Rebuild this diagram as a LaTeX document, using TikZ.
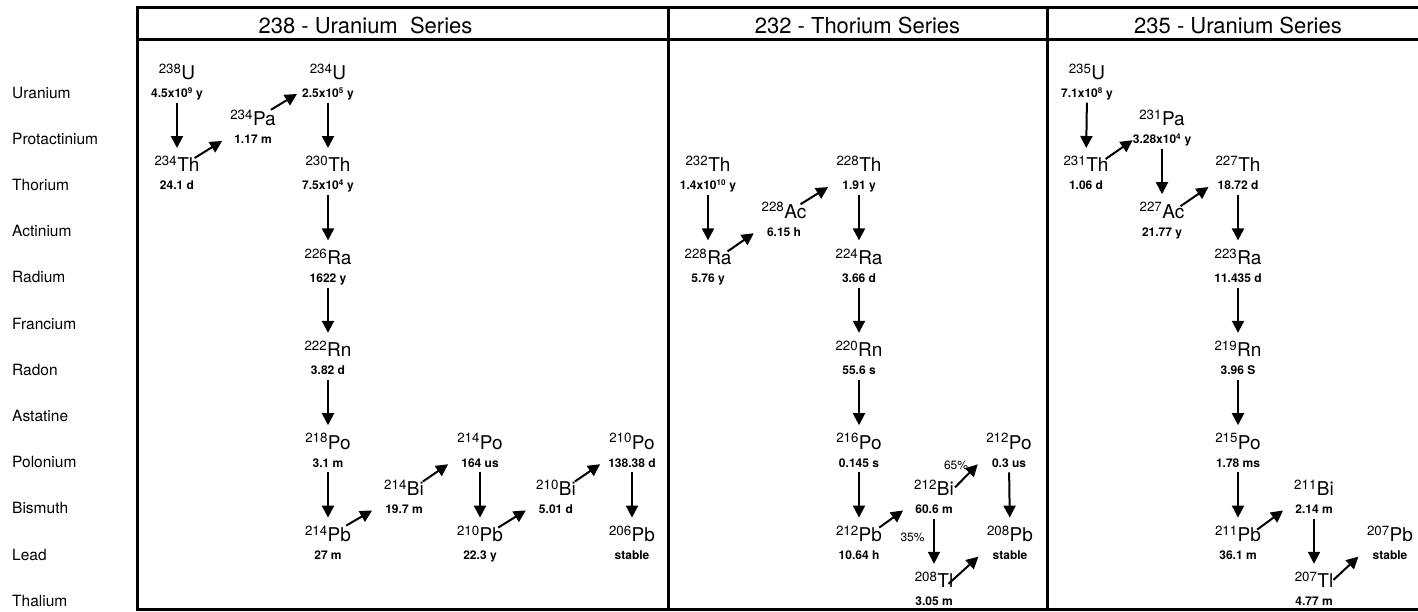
\documentclass[tikz,border=0pt]{standalone}
\usepackage{fontspec}
\setmainfont{TeX Gyre Heros}
\usepackage{tikz}
\usetikzlibrary{arrows.meta}

\tikzset{
  frame/.style={line width=3pt},
  series/.style={anchor=base, font=\fontsize{22}{24}\selectfont},
  rowname/.style={anchor=west, inner sep=0pt, font=\fontsize{15.5}{17}\selectfont},
  nuclide/.style={anchor=base, inner sep=1pt, font=\fontsize{19}{20}\selectfont},
  halflife/.style={anchor=base, inner sep=1pt, text depth=3pt, font=\fontsize{12}{13}\selectfont\bfseries},
  ratio/.style={font=\fontsize{12}{13}\selectfont},
  decay/.style={-{Triangle[length=12pt,width=12pt]}, line width=2pt, shorten <=1pt, shorten >=7pt},
  branch/.style={-{Triangle[length=12pt,width=12pt]}, line width=2pt}
}

\begin{document}
\begin{tikzpicture}[x=1pt, y=-1pt]
    \useasboundingbox (0,0) rectangle (1418,611);

    % Frame and series headers
    \draw[frame] (1418,7.5) -- (137.5,7.5) -- (137.5,609.5) -- (1418,609.5);
    \draw[frame] (137.5,39.5) -- (1418,39.5);
    \draw[frame] (668.5,7.5) -- (668.5,609.5);
    \draw[frame] (1047.5,7.5) -- (1047.5,609.5);
    \node[series] (s238) at (365.5,33.5) {238 - Uranium\ \ Series};
    \node[series] (s232) at (857.5,33.5) {232 - Thorium Series};
    \node[series] (s235) at (1238,33.5) {235 - Uranium Series};

    % Element rows
    \node[rowname] (rU)  at (12,92.5)  {Uranium};
    \node[rowname] (rPa) at (12,138.7) {Protactinium};
    \node[rowname] (rTh) at (12,184.9) {Thorium};
    \node[rowname] (rAc) at (12,231.1) {Actinium};
    \node[rowname] (rRa) at (12,277.3) {Radium};
    \node[rowname] (rFr) at (12,323.5) {Francium};
    \node[rowname] (rRn) at (12,369.7) {Radon};
    \node[rowname] (rAt) at (12,415.9) {Astatine};
    \node[rowname] (rPo) at (12,462.1) {Polonium};
    \node[rowname] (rBi) at (12,508.3) {Bismuth};
    \node[rowname] (rPb) at (12,554.5) {Lead};
    \node[rowname] (rTl) at (12,600.7) {Thalium};

    % 238 - Uranium series
    \node[nuclide]  (U238)   at (177,79.5)  {\textsuperscript{238}U};
    \node[halflife] (U238t)  at (177,97.5)  {4.5x10\textsuperscript{9} y};
    \node[nuclide]  (Th234)  at (177,171.9) {\textsuperscript{234}Th};
    \node[halflife] (Th234t) at (177,189.9) {24.1 d};
    \node[nuclide]  (Pa234)  at (253,125.7) {\textsuperscript{234}Pa};
    \node[halflife] (Pa234t) at (253,143.7) {1.17 m};
    \node[nuclide]  (U234)   at (328,79.5)  {\textsuperscript{234}U};
    \node[halflife] (U234t)  at (328,97.5)  {2.5x10\textsuperscript{5} y};
    \node[nuclide]  (Th230)  at (328,171.9) {\textsuperscript{230}Th};
    \node[halflife] (Th230t) at (328,189.9) {7.5x10\textsuperscript{4} y};
    \node[nuclide]  (Ra226)  at (328,264.3) {\textsuperscript{226}Ra};
    \node[halflife] (Ra226t) at (328,282.3) {1622 y};
    \node[nuclide]  (Rn222)  at (328,356.7) {\textsuperscript{222}Rn};
    \node[halflife] (Rn222t) at (328,374.7) {3.82 d};
    \node[nuclide]  (Po218)  at (328,449.1) {\textsuperscript{218}Po};
    \node[halflife] (Po218t) at (328,467.1) {3.1 m};
    \node[nuclide]  (Pb214)  at (328,541.5) {\textsuperscript{214}Pb};
    \node[halflife] (Pb214t) at (328,559.5) {27 m};
    \node[nuclide]  (Bi214)  at (404,495.3) {\textsuperscript{214}Bi};
    \node[halflife] (Bi214t) at (404,513.3) {19.7 m};
    \node[nuclide]  (Po214)  at (480,449.1) {\textsuperscript{214}Po};
    \node[halflife] (Po214t) at (480,467.1) {164 us};
    \node[nuclide]  (Pb210)  at (480,541.5) {\textsuperscript{210}Pb};
    \node[halflife] (Pb210t) at (480,559.5) {22.3 y};
    \node[nuclide]  (Bi210)  at (556,495.3) {\textsuperscript{210}Bi};
    \node[halflife] (Bi210t) at (556,513.3) {5.01 d};
    \node[nuclide]  (Po210)  at (632,449.1) {\textsuperscript{210}Po};
    \node[halflife] (Po210t) at (632,467.1) {138.38 d};
    \node[nuclide]  (Pb206)  at (632,541.5) {\textsuperscript{206}Pb};
    \node[halflife] (Pb206t) at (632,559.5) {stable};

    \draw[decay] (U238t) -- (Th234);
    \draw[branch] ([shift={(-6pt,-3pt)}]Th234.north east) -- ([xshift=-11pt]Pa234t.west);
    \draw[branch] ([shift={(-6pt,-1pt)}]Pa234.north east) -- ([xshift=-4pt]U234t.west);
    \draw[decay] (U234t) -- (Th230);
    \draw[decay] (Th230t) -- (Ra226);
    \draw[decay] (Ra226t) -- (Rn222);
    \draw[decay] (Rn222t) -- (Po218);
    \draw[decay] (Po218t) -- (Pb214);
    \draw[branch] ([shift={(-6pt,-1pt)}]Pb214.north east) -- ([xshift=-12pt]Bi214t.west);
    \draw[branch] ([shift={(-2pt,-3pt)}]Bi214.north east) -- ([xshift=-12pt]Po214t.west);
    \draw[decay] (Po214t) -- (Pb210);
    \draw[branch] ([shift={(-6pt,-3pt)}]Pb210.north east) -- ([xshift=-12pt]Bi210t.west);
    \draw[branch] ([shift={(-2pt,-3pt)}]Bi210.north east) -- ([xshift=-7pt]Po210t.west);
    \draw[decay] (Po210t) -- (Pb206);

    % 232 - Thorium series
    \node[nuclide]  (Th232)  at (708,171.9) {\textsuperscript{232}Th};
    \node[halflife] (Th232t) at (708,189.9) {1.4x10\textsuperscript{10} y};
    \node[nuclide]  (Ra228)  at (708,264.3) {\textsuperscript{228}Ra};
    \node[halflife] (Ra228t) at (708,282.3) {5.76 y};
    \node[nuclide]  (Ac228)  at (784,218.1) {\textsuperscript{228}Ac};
    \node[halflife] (Ac228t) at (784,236.1) {6.15 h};
    \node[nuclide]  (Th228)  at (859,171.9) {\textsuperscript{228}Th};
    \node[halflife] (Th228t) at (859,189.9) {1.91 y};
    \node[nuclide]  (Ra224)  at (859,264.3) {\textsuperscript{224}Ra};
    \node[halflife] (Ra224t) at (859,282.3) {3.66 d};
    \node[nuclide]  (Rn220)  at (859,356.7) {\textsuperscript{220}Rn};
    \node[halflife] (Rn220t) at (859,374.7) {55.6 s};
    \node[nuclide]  (Po216)  at (859,449.1) {\textsuperscript{216}Po};
    \node[halflife] (Po216t) at (859,467.1) {0.145 s};
    \node[nuclide]  (Pb212)  at (859,541.5) {\textsuperscript{212}Pb};
    \node[halflife] (Pb212t) at (859,559.5) {10.64 h};
    \node[nuclide]  (Bi212)  at (934,495.3) {\textsuperscript{212}Bi};
    \node[halflife] (Bi212t) at (934,513.3) {60.6 m};
    \node[nuclide]  (Tl208)  at (934,587.7) {\textsuperscript{208}Tl};
    \node[halflife] (Tl208t) at (934,605.7) {3.05 m};
    \node[nuclide]  (Po212)  at (1009,449.1) {\textsuperscript{212}Po};
    \node[halflife] (Po212t) at (1009,467.1) {0.3 us};
    \node[nuclide]  (Pb208)  at (1010,541.5) {\textsuperscript{208}Pb};
    \node[halflife] (Pb208t) at (1010,559.5) {stable};
    \node[ratio] (p65) at (956,465) {65\%};
    \node[ratio] (p35) at (912.5,537) {35\%};

    \draw[decay] (Th232t) -- (Ra228);
    \draw[branch] ([shift={(-5pt,-4pt)}]Ra228.north east) -- ([xshift=-12pt]Ac228t.west);
    \draw[branch] ([shift={(-7pt,-3pt)}]Ac228.north east) -- ([xshift=-13pt]Th228t.west);
    \draw[decay] (Th228t) -- (Ra224);
    \draw[decay] (Ra224t) -- (Rn220);
    \draw[decay] (Rn220t) -- (Po216);
    \draw[decay] (Po216t) -- (Pb212);
    \draw[branch] ([shift={(-4pt,-3pt)}]Pb212.north east) -- ([xshift=-11pt]Bi212t.west);
    \draw[branch] (Bi212.east) -- ([xshift=-13pt]Po212t.west);
    \draw[decay] (Bi212t) -- (Tl208);
    \draw[branch] ([shift={(-6pt,-4pt)}]Tl208.east) -- ([xshift=-13pt]Pb208t.west);
    \draw[decay] (Po212t) -- (Pb208);

    % 235 - Uranium series
    \node[nuclide]  (U235)   at (1087,79.5)  {\textsuperscript{235}U};
    \node[halflife] (U235t)  at (1087,97.5)  {7.1x10\textsuperscript{8} y};
    \node[nuclide]  (Th231)  at (1086,171.9) {\textsuperscript{231}Th};
    \node[halflife] (Th231t) at (1086,189.9) {1.06 d};
    \node[nuclide]  (Pa231)  at (1162,125.7) {\textsuperscript{231}Pa};
    \node[halflife] (Pa231t) at (1162,143.7) {3.28x10\textsuperscript{4} y};
    \node[nuclide]  (Ac227)  at (1162,218.1) {\textsuperscript{227}Ac};
    \node[halflife] (Ac227t) at (1162,236.1) {21.77 y};
    \node[nuclide]  (Th227)  at (1238,171.9) {\textsuperscript{227}Th};
    \node[halflife] (Th227t) at (1238,189.9) {18.72 d};
    \node[nuclide]  (Ra223)  at (1238,264.3) {\textsuperscript{223}Ra};
    \node[halflife] (Ra223t) at (1238,282.3) {11.435 d};
    \node[nuclide]  (Rn219)  at (1238,356.7) {\textsuperscript{219}Rn};
    \node[halflife] (Rn219t) at (1238,374.7) {3.96 S};
    \node[nuclide]  (Po215)  at (1238,449.1) {\textsuperscript{215}Po};
    \node[halflife] (Po215t) at (1238,467.1) {1.78 ms};
    \node[nuclide]  (Pb211)  at (1238,541.5) {\textsuperscript{211}Pb};
    \node[halflife] (Pb211t) at (1238,559.5) {36.1 m};
    \node[nuclide]  (Bi211)  at (1314,495.3) {\textsuperscript{211}Bi};
    \node[halflife] (Bi211t) at (1314,513.3) {2.14 m};
    \node[nuclide]  (Tl207)  at (1314,587.7) {\textsuperscript{207}Tl};
    \node[halflife] (Tl207t) at (1314,605.7) {4.77 m};
    \node[nuclide]  (Pb207)  at (1390,541.5) {\textsuperscript{207}Pb};
    \node[halflife] (Pb207t) at (1390,559.5) {stable};

    \draw[decay] (U235t) -- (Th231);
    \draw[branch] ([shift={(-4pt,-4pt)}]Th231.north east) -- ([xshift=1pt]Pa231t.west);
    \draw[decay] (Pa231t) -- (Ac227);
    \draw[branch] ([shift={(-5pt,-5pt)}]Ac227.north east) -- ([xshift=-8pt]Th227t.west);
    \draw[decay] (Th227t) -- (Ra223);
    \draw[decay] (Ra223t) -- (Rn219);
    \draw[decay] (Rn219t) -- (Po215);
    \draw[decay] (Po215t) -- (Pb211);
    \draw[branch] ([shift={(-5pt,-5pt)}]Pb211.north east) -- ([xshift=-11pt]Bi211t.west);
    \draw[decay] (Bi211t) -- (Tl207);
    \draw[branch] ([xshift=-1pt]Tl207.east) -- ([xshift=-13pt]Pb207t.west);
\end{tikzpicture}
\end{document}
